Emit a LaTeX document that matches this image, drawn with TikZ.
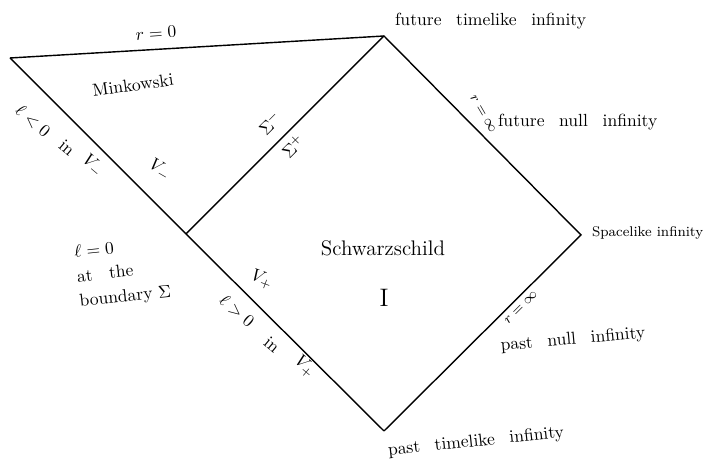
\documentclass[tikz,border=0pt]{standalone}
\usepackage{amsmath, amsfonts, amssymb}
\usepackage{tikz}
\usetikzlibrary{calc}

\begin{document}
\begin{tikzpicture}[lbl/.style={inner sep=1pt}]
        % Fixed frame
        \useasboundingbox (0, 0) rectangle (14.08, 9.36);

        % Corners of the diagram
        \coordinate (Lft) at (0.2, 8.2);
        \coordinate (Top) at (7.68, 8.64);
        \coordinate (Rgt) at (11.62, 4.66);
        \coordinate (Bot) at (7.68, 0.74);
        \coordinate (Mid) at (3.72, 4.68);

        % Minkowski region and Schwarzschild block
        \draw[thick] (Lft) -- (Top);
        \draw[thick] (Lft) -- (Mid) -- (Bot);
        \draw[thick] (Mid) -- (Top);
        \draw[thick] (Top) -- (Rgt) -- (Bot);

        % Singular line r = 0
        \node[lbl, rotate=4] (rzero) at (3.12, 8.7) {$r = 0$};
        \node[lbl, anchor=west] (futtime) at (7.86, 8.94) {future \, timelike \, infinity};
        \node[lbl, rotate=8] (mink) at (2.66, 7.66) {Minkowski};

        % Labels along the left edge
        \node[lbl, rotate=-40] (lneg) at (0.66, 6.94) {$\ell<0$};
        \node[lbl, rotate=-40] (lnegin) at (1.34, 6.4) {in};
        \node[lbl, rotate=-40] (lnegv) at (1.86, 6.04) {$V_-$};
        \node[lbl, rotate=-30] (vminus) at (3.2, 5.96) {$V_-$};

        % Boundary Sigma
        \node[lbl, rotate=45] (sigm) at (5.4, 6.9) {$\Sigma^-$};
        \node[lbl, rotate=45] (sigp) at (5.86, 6.44) {$\Sigma^+$};

        % Future null infinity
        \node[lbl, rotate=-60, font=\footnotesize] (rinfa) at (9.66, 7.08) {$r=\infty$};
        \node[lbl, anchor=west] (futnull) at (9.92, 6.92) {future \, null \, infinity};
        \node[lbl, anchor=west, font=\footnotesize] (space) at (11.8, 4.7) {Spacelike infinity};

        % Region names
        \node[lbl, font=\large] (schw) at (7.66, 4.4) {Schwarzschild};
        \node[lbl, font=\Large] (regI) at (7.68, 3.4) {I};

        % l = 0 on the boundary
        \node[lbl, align=left, anchor=west, rotate=6] (lzero) at (1.5, 3.8) {$\ell=0$ \\[2pt] at \; the \\[2pt] boundary $\Sigma$};

        % Labels along the lower left edge
        \node[lbl, rotate=-20] (vplus) at (5.24, 3.76) {$V_+$};
        \node[lbl, rotate=-40] (lpos) at (4.74, 3.14) {$\ell>0$};
        \node[lbl, rotate=-40] (lposin) at (5.44, 2.46) {in};
        \node[lbl, rotate=-40] (lposv) at (6.1, 2.02) {$V_+$};

        % Past null and past timelike infinity
        \node[lbl, rotate=45, font=\footnotesize] (rinfb) at (10.42, 3.2) {$r=\infty$};
        \node[lbl, rotate=5] (pastnull) at (11.46, 2.56) {past \, null \, infinity};
        \node[lbl, rotate=6] (pasttime) at (9.52, 0.52) {past \, timelike \, infinity};
\end{tikzpicture}
\end{document}
